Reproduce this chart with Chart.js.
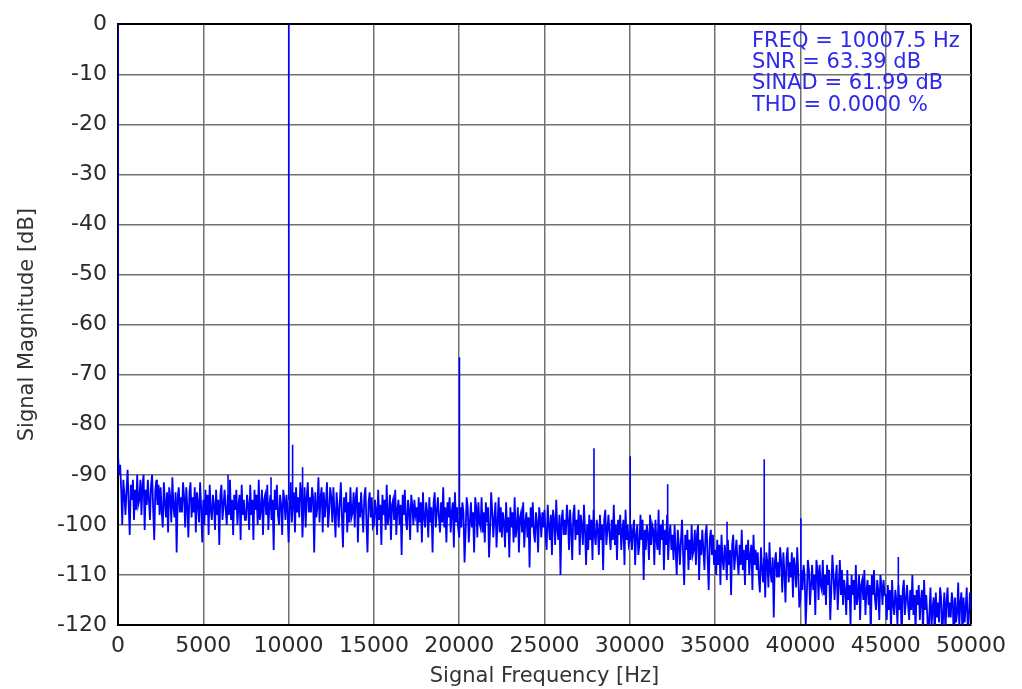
<!DOCTYPE html>
<html lang="en">
<head>
    <meta charset="UTF-8">
    <title>Signal Spectrum</title>
    <style>
        body {
            margin: 0;
            background: #fff;
        }
        #chart {
            display: block;
        }
    </style>
</head>
<body>
<canvas id="chart" width="1022" height="689"></canvas>

<script src="https://cdn.jsdelivr.net/npm/chart.js@4.4.1/dist/chart.umd.min.js"></script>
<script>
  // FFT bins, 62.5 Hz apart, 0 .. 50000 Hz (one row = 2500 Hz)
  const binStepHz = 62.5;
  const noiseDb = [
    -86, -90, -88, -93, -100, -91, -94, -98, -93, -89, -96, -102, -92, -95, -91, -99, -93, -97, -90, -96, -95, -91, -98, -92, -90, -101, -93, -96, -91, -95, -99, -92, -90, -97, -103, -93, -91, -96, -92, -98,
    -92.5, -97.5, -100.5, -91.5, -95.5, -98.5, -93.5, -101.5, -92.5, -94.5, -99.5, -90.5, -96.5, -98.5, -93.5, -105.5, -94.5, -92.5, -97.5, -94.5, -97.5, -91.5, -94.5, -100.5, -92.5, -96.5, -102.5, -93.5, -91.5, -98.5, -94.5, -97.5, -92.5, -101.5, -93.5, -95.5, -99.5, -91.5, -96.5, -103.5,
    -95, -100, -93, -98, -94, -102, -92, -97, -99, -94, -96, -101, -93, -98, -95, -104, -94, -92, -99, -96, -93, -97, -100, -94, -98, -91, -99, -95, -102, -94, -97, -93, -100, -96, -94, -103, -92, -98, -95, -99,
    -99, -94, -96, -101, -92, -98, -95, -103, -93, -97, -94, -100, -91, -99, -97, -93, -102, -95, -94, -98, -92, -101, -96, -94, -99, -95, -105, -93, -97, -92, -98, -100, -94, -96, -102, -93, -95, -99, -94, -97,
    -103.5, -96.5, -91.5, -99.5, -95.5, -93.5, -101.5, -92.5, -97.5, -94.5, -98.5, -91.5, -93.5, -102.5, -96.5, -92.5, -100.5, -94.5, -91.5, -97.5, -94.5, -97.5, -92.5, -94.5, -105.5, -93.5, -98.5, -96.5, -90.5, -99.5, -94.5, -92.5, -101.5, -93.5, -98.5, -95.5, -91.5, -100.5, -97.5, -92.5,
    -94.5, -99.5, -92.5, -97.5, -102.5, -93.5, -96.5, -100.5, -95.5, -91.5, -98.5, -104.5, -94.5, -97.5, -93.5, -101.5, -95.5, -99.5, -92.5, -98.5, -97.5, -93.5, -100.5, -94.5, -92.5, -103.5, -95.5, -98.5, -93.5, -97.5, -101.5, -94.5, -92.5, -99.5, -105.5, -95.5, -93.5, -98.5, -94.5, -100.5,
    -100, -95, -97, -102, -93, -99, -96, -104, -94, -98, -95, -101, -92, -100, -98, -94, -103, -96, -95, -99, -93, -102, -97, -95, -100, -96, -106, -94, -98, -93, -99, -101, -95, -97, -103, -94, -96, -100, -95, -98,
    -96.5, -101.5, -94.5, -99.5, -95.5, -103.5, -93.5, -98.5, -100.5, -95.5, -97.5, -102.5, -94.5, -99.5, -96.5, -105.5, -95.5, -93.5, -100.5, -97.5, -94.5, -98.5, -101.5, -95.5, -99.5, -92.5, -100.5, -96.5, -103.5, -95.5, -98.5, -94.5, -101.5, -97.5, -95.5, -104.5, -93.5, -99.5, -96.5, -100.5,
    -102.5, -96.5, -100.5, -95.5, -97.5, -107.5, -101.5, -94.5, -96.5, -103.5, -99.5, -95.5, -100.5, -97.5, -105.5, -94.5, -96.5, -102.5, -95.5, -99.5, -100.5, -94.5, -101.5, -97.5, -103.5, -95.5, -99.5, -96.5, -106.5, -100.5, -93.5, -97.5, -102.5, -98.5, -95.5, -104.5, -99.5, -94.5, -101.5, -96.5,
    -102.5, -97.5, -99.5, -104.5, -95.5, -101.5, -98.5, -106.5, -96.5, -100.5, -97.5, -103.5, -94.5, -102.5, -100.5, -96.5, -105.5, -98.5, -97.5, -101.5, -95.5, -104.5, -99.5, -97.5, -102.5, -98.5, -108.5, -96.5, -100.5, -95.5, -101.5, -103.5, -97.5, -99.5, -105.5, -96.5, -98.5, -102.5, -97.5, -100.5,
    -97, -102, -105, -96, -100, -103, -98, -106, -97, -99, -104, -95, -101, -103, -98, -110, -99, -97, -102, -99, -102, -96, -99, -105, -97, -101, -107, -98, -96, -103, -99, -102, -97, -106, -98, -100, -104, -96, -101, -108,
    -100, -105, -98, -103, -99, -107, -97, -102, -104, -99, -101, -106, -98, -103, -100, -109, -99, -97, -104, -101, -98, -102, -105, -99, -103, -96, -104, -100, -107, -99, -102, -98, -105, -101, -99, -108, -97, -103, -100, -104,
    -103, -100, -105, -101, -99, -108, -102, -100, -106, -104, -98, -103, -99, -111, -101, -105, -100, -102, -107, -98, -104, -100, -101, -108, -99, -103, -105, -97, -106, -100, -103, -99, -109, -101, -104, -98, -107, -102, -100, -105,
    -102, -107, -100, -105, -110, -101, -104, -108, -103, -99, -106, -112, -102, -105, -101, -109, -103, -107, -100, -106, -105, -101, -108, -102, -100, -111, -103, -106, -101, -105, -109, -102, -100, -107, -113, -103, -101, -106, -102, -108,
    -105, -110, -103, -108, -104, -112, -102, -107, -109, -104, -106, -111, -103, -108, -105, -114, -104, -102, -109, -106, -103, -107, -110, -104, -108, -101, -109, -105, -112, -104, -107, -103, -110, -106, -104, -113, -102, -108, -105, -109,
    -105.5, -110.5, -113.5, -104.5, -108.5, -111.5, -106.5, -114.5, -105.5, -107.5, -112.5, -103.5, -109.5, -111.5, -106.5, -118.5, -107.5, -105.5, -110.5, -107.5, -110.5, -104.5, -107.5, -113.5, -105.5, -109.5, -115.5, -106.5, -104.5, -111.5, -107.5, -110.5, -105.5, -114.5, -106.5, -108.5, -112.5, -104.5, -109.5, -116.5,
    -115, -109, -113, -108, -110, -120, -114, -107, -109, -116, -112, -108, -113, -110, -118, -107, -109, -115, -108, -112, -113, -107, -114, -110, -116, -108, -112, -109, -119, -113, -106, -110, -115, -111, -108, -117, -112, -107, -114, -109,
    -116, -111, -113, -118, -109, -115, -112, -120, -110, -114, -111, -117, -108, -116, -114, -110, -119, -112, -111, -115, -109, -118, -113, -111, -116, -112, -122, -110, -114, -109, -115, -117, -111, -113, -119, -110, -112, -116, -111, -114,
    -114, -119, -112, -117, -113, -121, -111, -116, -118, -113, -115, -120, -112, -117, -114, -123, -113, -111, -118, -115, -112, -116, -119, -113, -117, -110, -118, -114, -121, -113, -116, -112, -119, -115, -113, -122, -111, -117, -114, -118,
    -124.5, -117.5, -112.5, -120.5, -116.5, -114.5, -122.5, -113.5, -118.5, -115.5, -119.5, -112.5, -114.5, -123.5, -117.5, -113.5, -121.5, -115.5, -112.5, -118.5, -115.5, -118.5, -113.5, -115.5, -126.5, -114.5, -119.5, -117.5, -111.5, -120.5, -115.5, -113.5, -122.5, -114.5, -119.5, -116.5, -112.5, -121.5, -118.5, -113.5,
    -117
  ];

  // narrow tones standing out of the floor
  const spikeHz     = [0,   2290, 6450, 8970,  10007.5, 10235, 10820, 20015, 27900, 30022.5, 32220, 35700, 37880, 40030, 45740];
  const spikeTopDb  = [0,   -91,  -90,  -90.5, 0,       -84,   -88.5, -66.5, -84.7, -86.3,   -91.9, -99.4, -86.9, -98.7, -106.4];
  const spikeBaseDb = [-88, -95,  -96,  -96,   -95,     -95,   -96,   -98,   -101,  -102,    -103,  -106,  -108,  -111,  -115];

  const xTicks = [0, 5000, 10000, 15000, 20000, 25000, 30000, 35000, 40000, 45000, 50000];
  const yTicks = [0, -10, -20, -30, -40, -50, -60, -70, -80, -90, -100, -110, -120];

  const infoLines = [
    'FREQ = 10007.5 Hz',
    'SNR = 63.39 dB',
    'SINAD = 61.99 dB',
    'THD = 0.0000 %'
  ];

  const FONT = "'DejaVu Sans', Verdana, sans-serif";
  const BLUE = 'rgb(0, 0, 255)';

  const floorPoints = noiseDb.map((db, i) => ({ x: i * binStepHz, y: db }));
  const spikePoints = [];
  spikeHz.forEach((f, i) => {
    spikePoints.push({ x: f, y: spikeBaseDb[i] });
    spikePoints.push({ x: f, y: spikeTopDb[i] });
    spikePoints.push({ x: f, y: null });
  });

  const infoText = {
    id: 'infoText',
    afterDraw(chart) {
      const ctx = chart.ctx;
      ctx.save();
      ctx.font = '21px ' + FONT;
      ctx.fillStyle = 'rgb(45, 40, 235)';
      ctx.textAlign = 'left';
      ctx.textBaseline = 'alphabetic';
      infoLines.forEach((line, i) => ctx.fillText(line, 752, 47 + i * 21.2));
      ctx.restore();
    }
  };

  const gridColor = edge => ctx => (ctx.tick && ctx.tick.value === edge) ? '#000' : '#707070';
  const gridWidth = edge => ctx => (ctx.tick && ctx.tick.value === edge) ? 2 : 1.5;

  new Chart(document.getElementById('chart'), {
    type: 'line',
    data: {
      datasets: [
        {
          data: floorPoints,
          borderColor: BLUE,
          borderWidth: 1.8,
          pointRadius: 0,
          tension: 0
        },
        {
          data: spikePoints,
          borderColor: BLUE,
          borderWidth: 1.6,
          pointRadius: 0,
          tension: 0,
          spanGaps: false
        }
      ]
    },
    options: {
      responsive: false,
      animation: false,
      layout: { padding: { top: 18, right: 51, left: 0, bottom: 0 } },
      plugins: {
        legend: { display: false },
        tooltip: { enabled: false }
      },
      scales: {
        x: {
          type: 'linear',
          min: 0,
          max: 50000,
          afterFit: s => { s.height = 64; },
          afterBuildTicks: s => { s.ticks = xTicks.map(v => ({ value: v })); },
          ticks: {
            callback: v => String(v),
            font: { family: FONT, size: 22 },
            color: '#2a2a2a',
            padding: 8,
            maxRotation: 0,
            autoSkip: false
          },
          grid: { color: gridColor(50000), lineWidth: gridWidth(50000), drawTicks: false },
          border: { color: '#000', width: 2 },
          title: {
            display: true,
            text: 'Signal Frequency [Hz]',
            font: { family: FONT, size: 21 },
            color: '#333',
            padding: { top: 0, bottom: 0 }
          }
        },
        y: {
          min: -120,
          max: 0,
          afterFit: s => { s.width = 118; },
          afterBuildTicks: s => { s.ticks = yTicks.map(v => ({ value: v })); },
          ticks: {
            callback: v => String(v),
            font: { family: FONT, size: 22 },
            color: '#2a2a2a',
            padding: 11,
            autoSkip: false
          },
          grid: { color: gridColor(0), lineWidth: gridWidth(0), drawTicks: false },
          border: { color: '#000', width: 2 },
          title: {
            display: true,
            text: 'Signal Magnitude [dB]',
            font: { family: FONT, size: 21 },
            color: '#333',
            padding: { top: 15, bottom: 0 }
          }
        }
      }
    },
    plugins: [infoText]
  });
</script>
</body>
</html>
